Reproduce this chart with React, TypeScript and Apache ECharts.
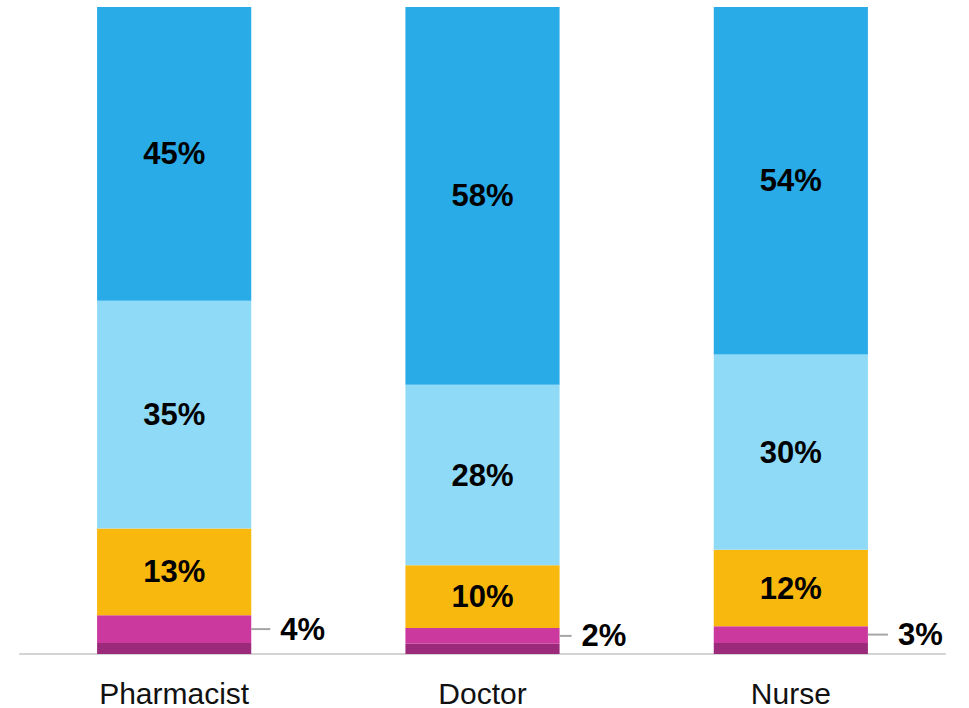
import React, { useEffect, useRef } from "react";
import * as echarts from "echarts";

const categories = ["Pharmacist", "Doctor", "Nurse"];
const darkValues = [1.7, 1.6, 1.7];
const magentaValues = [4.3, 2.4, 2.6];
const orangeValues = [13.4, 9.7, 11.8];
const lightBlueValues = [35.2, 27.9, 30.2];
const blueValues = [45.4, 58.4, 53.7];

const FONT = "'Liberation Sans', Arial, sans-serif";
const leaderLengths = [19, 12, 20];

export default function App() {
  const ref = useRef<HTMLDivElement>(null);
  useEffect(() => {
    document.body.style.margin = "0";
    const chart = echarts.init(ref.current!, null, { renderer: "svg" });
    const inner = {
      show: true,
      position: "inside",
      color: "#000",
      fontFamily: FONT,
      fontWeight: "bold",
      fontSize: 31,
      formatter: (p: any) => Math.round(p.value) + "%",
    };
    const rich: any = {
      v: { color: "#000", fontFamily: FONT, fontWeight: "bold", fontSize: 31, padding: [0, 0, 0, 10] },
    };
    leaderLengths.forEach((w, i) => {
      rich["l" + i] = { width: w, height: 2, backgroundColor: "#a6a6a6" };
    });
    const mk = (name: string, data: number[], color: string, label: any) => ({
      name,
      type: "bar",
      stack: "all",
      barWidth: "50%",
      data,
      itemStyle: { color },
      label,
    });
    chart.setOption({
      animation: false,
      grid: { left: 20, right: 24, top: 7, bottom: 53 },
      xAxis: {
        type: "category",
        data: categories,
        axisTick: { show: false },
        axisLine: { lineStyle: { color: "#d3d3d3", width: 2 } },
        axisLabel: { color: "#111", fontFamily: FONT, fontSize: 30, lineHeight: 24, margin: 27 },
      },
      yAxis: { type: "value", min: 0, max: 100, show: false },
      series: [
        mk("dark", darkValues, "#9B2A7B", { show: false }),
        mk("magenta", magentaValues, "#CB399F", {
          show: true,
          position: "right",
          distance: 0,
          rich,
          formatter: (p: any) => "{l" + p.dataIndex + "|}{v|" + Math.round(p.value) + "%}",
        }),
        mk("orange", orangeValues, "#F9B80E", inner),
        mk("lightblue", lightBlueValues, "#8FDAF6", inner),
        mk("blue", blueValues, "#29ABE7", inner),
      ],
    });
    return () => chart.dispose();
  }, []);
  return <div ref={ref} style={{ width: 969, height: 708 }} />;
}
